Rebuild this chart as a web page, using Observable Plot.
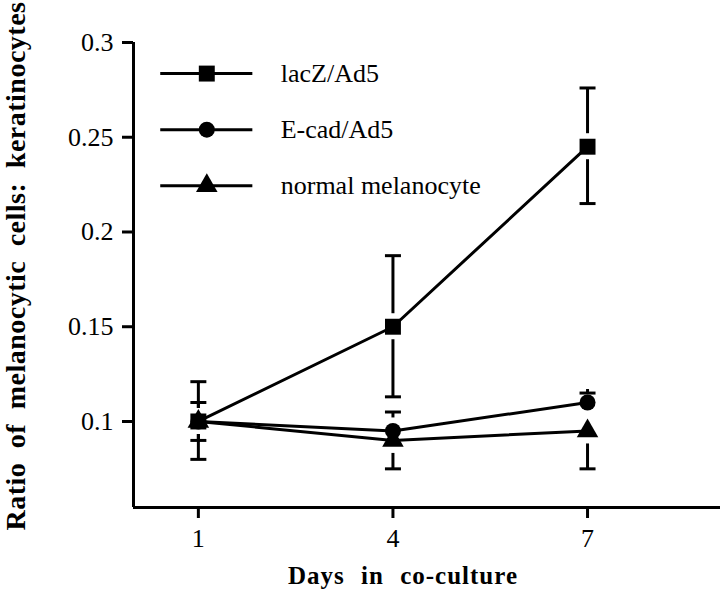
<!DOCTYPE html>
<html>
<head>
<meta charset="utf-8">
<script src="https://cdn.jsdelivr.net/npm/d3@7"></script>
<script src="https://cdn.jsdelivr.net/npm/@observablehq/plot@0.6"></script>
<style>
  html, body { margin: 0; padding: 0; background: white; }
  #chart { width: 720px; height: 593px; }
</style>
</head>
<body>
<div id="chart"></div>
<script>
// ---- data ----
const days = [1, 4, 7];
const seriesNames = ["lacZ/Ad5", "E-cad/Ad5", "normal melanocyte"];
const seriesSymbols = ["square", "circle", "triangle"];
const lacZ = [0.100, 0.150, 0.245];
const ecad = [0.100, 0.095, 0.110];
const normal = [0.100, 0.090, 0.095];
// error bar ends (one direction per series where shown)
const lacZUpper = [0.121, 0.1875, 0.276];
const lacZLower = [0.080, 0.113, 0.215];
const ecadUpper = [0.110, 0.105, 0.115];
const normalLower = [0.090, 0.075, 0.075];
const yTicks = [0.1, 0.15, 0.2, 0.25, 0.3];
const yTickLabels = ["0.1", "0.15", "0.2", "0.25", "0.3"];
const xTicks = [1, 4, 7];
const xTitle = "Days in co-culture";
const yTitle = "Ratio of melanocytic cells: keratinocytes";

// ---- tables ----
const values = [lacZ, ecad, normal];
const rows = seriesNames.flatMap((s, i) => days.map((d, j) => ({series: s, symbol: seriesSymbols[i], day: d, value: values[i][j]})));
const errUp = [
  ...days.map((d, j) => ({day: d, value: lacZ[j], end: lacZUpper[j]})),
  ...days.map((d, j) => ({day: d, value: ecad[j], end: ecadUpper[j]}))
];
const errDown = [
  ...days.map((d, j) => ({day: d, value: lacZ[j], end: lacZLower[j]})),
  ...days.map((d, j) => ({day: d, value: normal[j], end: normalLower[j]}))
];
const caps = [...errUp, ...errDown];

const yMin = 0.0546, yMax = 0.3;
const xDomain = [0, 9.05];

// legend layout (computed in data space)
const legend = seriesNames.map((s, i) => ({series: s, symbol: seriesSymbols[i], y: 0.2836 - i * 0.0296}));
const legX1 = 0.42, legX2 = 1.84, legXm = 1.13, legXt = 2.27;

const capSymbol = {draw(ctx) { ctx.moveTo(-8, 0); ctx.lineTo(8, 0); }};
const font = "'Liberation Serif', 'Times New Roman', serif";

const markerR = {square: 9, circle: 8, triangle: 8};

const marks = [
  Plot.ruleX([0], {strokeWidth: 3, stroke: "black"}),
  Plot.ruleY([yMin], {strokeWidth: 3, stroke: "black"}),
  Plot.axisY({ticks: yTicks, tickFormat: (d) => yTickLabels[yTicks.indexOf(d)], tickSize: 11, tickPadding: 9, fontSize: 26, strokeWidth: 3, label: null}),
  Plot.axisX({ticks: xTicks, tickFormat: (d) => String(d), tickSize: 11, tickPadding: 10, fontSize: 26, strokeWidth: 3, label: null}),
  Plot.line(rows, {x: "day", y: "value", z: "series", stroke: "black", strokeWidth: 3}),
  Plot.ruleX(errUp, {x: "day", y1: "end", y2: "value", stroke: "black", strokeWidth: 3, insetBottom: 13}),
  Plot.ruleX(errDown, {x: "day", y1: "value", y2: "end", stroke: "black", strokeWidth: 3, insetTop: 13}),
  Plot.dot(caps, {x: "day", y: "end", symbol: capSymbol, stroke: "black", strokeWidth: 3, fill: "none"}),
  ...seriesSymbols.map((sym) => Plot.dot(rows.filter(r => r.symbol === sym), {x: "day", y: "value", symbol: sym, r: markerR[sym], fill: "black", stroke: "none"})),
  // legend
  Plot.ruleY(legend, {y: "y", x1: () => legX1, x2: () => legX2, stroke: "black", strokeWidth: 3}),
  ...seriesSymbols.map((sym) => Plot.dot(legend.filter(r => r.symbol === sym), {x: () => legXm, y: "y", symbol: sym, r: markerR[sym], fill: "black", stroke: "none"})),
  Plot.text(legend, {x: () => legXt, y: "y", text: "series", textAnchor: "start", fontSize: 26, fill: "black"}),
  // titles
  Plot.text([yTitle], {text: d => d, frameAnchor: "left", textAnchor: "middle", rotate: -90, dx: -117, dy: -9, lineAnchor: "middle", fontSize: 28, fontWeight: "bold", fill: "black"}),
  Plot.text([xTitle], {text: d => d, frameAnchor: "bottom", textAnchor: "middle", dx: -24, dy: 68, lineAnchor: "middle", fontSize: 25, fontWeight: "bold", fill: "black"})
];

const chart = Plot.plot({
  width: 720,
  height: 593,
  marginLeft: 133,
  marginRight: 0,
  marginTop: 42,
  marginBottom: 86,
  style: {fontFamily: font, background: "white", color: "black"},
  x: {domain: xDomain},
  y: {domain: [yMin, yMax]},
  marks
});

d3.select(chart).selectAll("text").filter(function() { return this.textContent === yTitle; })
  .style("word-spacing", "7px").style("letter-spacing", "0.5px");
d3.select(chart).selectAll("text").filter(function() { return this.textContent === xTitle; })
  .style("word-spacing", "9px").style("letter-spacing", "1px");

document.getElementById("chart").appendChild(chart);
</script>
</body>
</html>
